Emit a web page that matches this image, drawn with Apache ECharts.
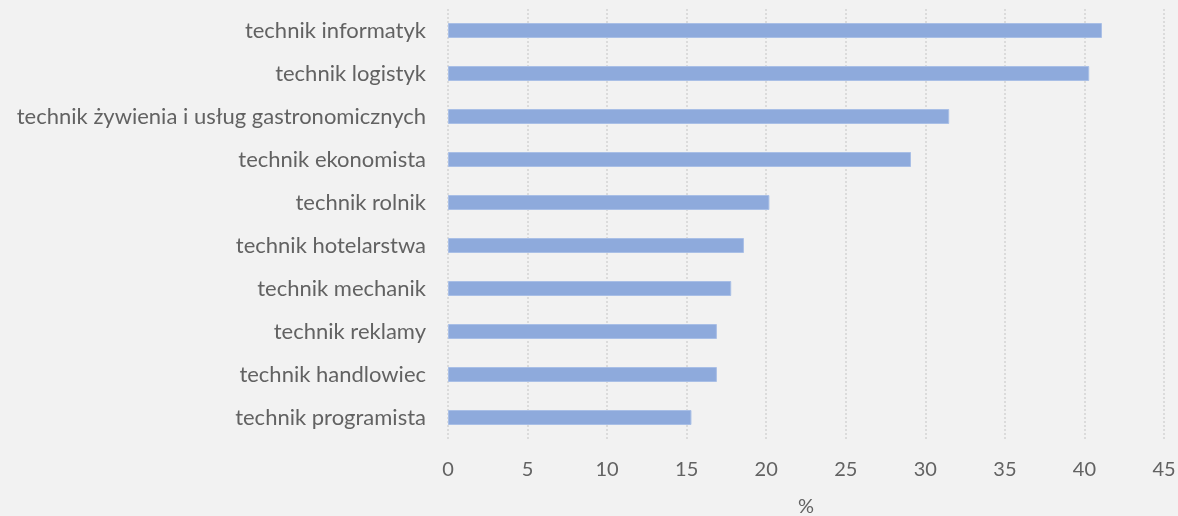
<!DOCTYPE html>
<html>
<head>
<meta charset="utf-8">
<script src="https://cdn.jsdelivr.net/npm/echarts@6/dist/echarts.min.js"></script>
<style>
  html, body { margin: 0; padding: 0; background: #f2f2f2; }
  #chart { width: 1178px; height: 516px; }
</style>
</head>
<body>
<div id="chart"></div>
<script>
// categories listed bottom to top (category axis on y starts at bottom)
const categories = [
  'technik programista',
  'technik handlowiec',
  'technik reklamy',
  'technik mechanik',
  'technik hotelarstwa',
  'technik rolnik',
  'technik ekonomista',
  'technik żywienia i usług gastronomicznych',
  'technik logistyk',
  'technik informatyk'
]
const values = [15.3, 16.9, 16.9, 17.8, 18.6, 20.2, 29.1, 31.5, 40.3, 41.1]
const xTicks = [0, 5, 10, 15, 20, 25, 30, 35, 40, 45]

const chart = echarts.init(document.getElementById('chart'))

const textColor = '#626262'

const option = {
  backgroundColor: '#f2f2f2',
  animation: false,
  grid: {
    left: 448,
    right: 14,
    top: 9,
    bottom: 77,
    containLabel: false,
    outerBoundsMode: 'none'
  },
  xAxis: {
    type: 'value',
    min: xTicks[0],
    max: xTicks[xTicks.length - 1],
    interval: 5,
    name: '%',
    nameLocation: 'middle',
    nameGap: 58,
    nameTextStyle: {
      color: textColor,
      fontFamily: 'Lato',
      fontSize: 20
    },
    axisLine: { show: false },
    axisTick: { show: false },
    axisLabel: {
      color: textColor,
      fontFamily: 'Lato',
      fontSize: 20,
      margin: 21
    },
    splitLine: {
      show: true,
      lineStyle: {
        color: '#d4d4d4',
        type: [2, 2],
        width: 1.5
      }
    }
  },
  yAxis: {
    type: 'category',
    data: categories,
    axisLine: { show: false },
    axisTick: { show: false },
    axisLabel: {
      color: textColor,
      fontFamily: 'Lato',
      fontSize: 22,
      margin: 22
    },
    splitLine: { show: false }
  },
  series: [
    {
      type: 'bar',
      data: values,
      barWidth: 15,
      itemStyle: {
        color: '#8eaadc',
        borderColor: '#a9bfe6',
        borderWidth: 1
      }
    }
  ]
}

chart.setOption(option)
</script>
</body>
</html>
